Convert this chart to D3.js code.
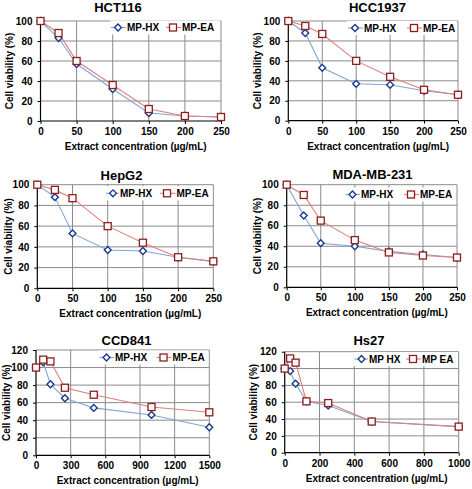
<!DOCTYPE html>
<html><head><meta charset="utf-8">
<script src="https://cdn.jsdelivr.net/npm/d3@7"></script>
<style>
html,body{margin:0;padding:0;background:#fff;}
svg{display:block;}
text{font-family:"Liberation Sans",Arial,sans-serif;font-weight:bold;fill:#000;}
</style></head><body>
<svg id="chart" width="472" height="489"></svg>
<script>
// ---- data ----
const titles = ["HCT116", "HCC1937", "HepG2", "MDA-MB-231", "CCD841", "Hs27"];
const concStd = [0, 25, 50, 100, 150, 200, 250];
const concCCD841 = [0, 62.5, 125, 250, 500, 1000, 1500];
const concHs27 = [0, 31.25, 62.5, 125, 250, 500, 1000];
const hct116HX = [100, 83, 57, 32, 8, 5, 4];
const hct116EA = [100, 88, 60, 36, 12, 5, 4];
const hcc1937HX = [100, 88, 53, 37, 36, 30, 26];
const hcc1937EA = [100, 95, 87, 60, 44, 31, 26];
const hepg2HX = [100, 88, 53, 37, 36, 30, 26];
const hepg2EA = [100, 95, 87, 60, 44, 30, 26];
const mdaHX = [100, 70, 43, 40, 35, 32, 29];
const mdaEA = [100, 90, 65, 46, 34, 31, 29];
const ccd841HX = [100, 106, 81, 65, 54, 46, 32];
const ccd841EA = [100, 109, 107, 77, 69, 55, 49];
const hs27HX = [100, 97, 82, 61, 56, 37, 31];
const hs27EA = [100, 112, 107, 61, 59, 37, 31];
const xTicks250 = [0, 50, 100, 150, 200, 250];
const xTicks1500 = [0, 300, 600, 900, 1200, 1500];
const xTicks1000 = [0, 200, 400, 600, 800, 1000];
const yTicks100 = [0, 20, 40, 60, 80, 100];
const yTicks120 = [0, 20, 40, 60, 80, 100, 120];
const legendStd = ["MP-HX", "MP-EA"];
const legendHs27 = ["MP HX", "MP EA"];
const xTitle = "Extract concentration (\u00b5g/mL)";
const yTitle = "Cell viability (%)";

// ---- layout ----
const panels = [
  {title: titles[0], x: concStd, hx: hct116HX, ea: hct116EA, xt: xTicks250, yt: yTicks100, leg: legendStd,
   L: 40.5, R: 221, T: 21, B: 121, titleX: 118, titleY: 12, yTitleX: 9, legY: 27.5, hxM: 118, hxT: 127, eaM: 173, eaT: 182},
  {title: titles[1], x: concStd, hx: hcc1937HX, ea: hcc1937EA, xt: xTicks250, yt: yTicks100, leg: legendStd,
   L: 288.3, R: 458, T: 21, B: 120.7, titleX: 377.5, titleY: 12, yTitleX: 257, legY: 28, hxM: 355, hxT: 364, eaM: 414, eaT: 423},
  {title: titles[2], x: concStd, hx: hepg2HX, ea: hepg2EA, xt: xTicks250, yt: yTicks100, leg: legendStd,
   L: 37.3, R: 213.3, T: 184.7, B: 288.3, titleX: 121.5, titleY: 180, yTitleX: 8, legY: 193.3, hxM: 113, hxT: 120, eaM: 167, eaT: 176.5},
  {title: titles[3], x: concStd, hx: mdaHX, ea: mdaEA, xt: xTicks250, yt: yTicks100, leg: legendStd,
   L: 286.7, R: 457, T: 184.7, B: 287.3, titleX: 372.5, titleY: 179, yTitleX: 257, legY: 194.5, hxM: 352.5, hxT: 361, eaM: 411, eaT: 420},
  {title: titles[4], x: concCCD841, hx: ccd841HX, ea: ccd841EA, xt: xTicks1500, yt: yTicks120, leg: legendStd,
   L: 36, R: 209.3, T: 350, B: 455.3, titleX: 126.5, titleY: 345, yTitleX: 6, legY: 357.5, hxM: 106.5, hxT: 115, eaM: 163.5, eaT: 172.5},
  {title: titles[5], x: concHs27, hx: hs27HX, ea: hs27EA, xt: xTicks1000, yt: yTicks120, leg: legendHs27,
   L: 284.7, R: 458.7, T: 351.7, B: 452.7, titleX: 369, titleY: 345, yTitleX: 253, legY: 359, hxM: 361.5, hxT: 369, eaM: 413, eaT: 422}
];

const hxLine = "#7fa6d6", hxMark = "#1c3a8a";
const eaLine = "#dd7f7f", eaMark = "#8f1d1d";
const gridCol = "#8a8a8a";

const svg = d3.select("#chart");
const diamond = d3.symbol().type(d3.symbolDiamond2).size(30);

function drawMarker(g, type, cx, cy) {
  if (type === "hx") {
    g.append("path").attr("d", diamond()).attr("transform", `translate(${cx},${cy})`)
      .attr("fill", "#fff").attr("stroke", hxMark).attr("stroke-width", 1.4);
  } else {
    g.append("rect").attr("x", cx - 3.5).attr("y", cy - 3.5).attr("width", 7).attr("height", 7)
      .attr("fill", "#fff").attr("stroke", eaMark).attr("stroke-width", 1.3);
  }
}

panels.forEach(p => {
  const xMax = p.xt[p.xt.length - 1], yMax = p.yt[p.yt.length - 1];
  const x = d3.scaleLinear().domain([0, xMax]).range([p.L, p.R]);
  const y = d3.scaleLinear().domain([0, yMax]).range([p.B, p.T]);
  const g = svg.append("g");

  // gridlines
  g.append("g").selectAll("line").data(p.yt.filter(v => v > 0)).join("line")
    .attr("x1", p.L).attr("x2", p.R).attr("y1", d => y(d)).attr("y2", d => y(d))
    .attr("stroke", gridCol).attr("stroke-width", 1);
  g.append("g").selectAll("line").data(p.xt.filter(v => v > 0)).join("line")
    .attr("x1", d => x(d)).attr("x2", d => x(d)).attr("y1", p.T).attr("y2", p.B)
    .attr("stroke", gridCol).attr("stroke-width", 1);

  // legend background
  g.append("rect").attr("x", p.hxM - 8).attr("y", p.legY - 7).attr("width", p.R - 1 - (p.hxM - 8)).attr("height", 14)
    .attr("fill", "#fff");

  // axes
  const xAxis = d3.axisBottom(x).tickValues(p.xt).tickSize(3).tickPadding(4).tickFormat(d3.format("d"));
  const yAxis = d3.axisLeft(y).tickValues(p.yt).tickSize(3).tickPadding(5).tickFormat(d3.format("d"));
  const ax = g.append("g").attr("transform", `translate(0,${p.B})`).call(xAxis);
  const ay = g.append("g").attr("transform", `translate(${p.L},0)`).call(yAxis);
  [ax, ay].forEach(a => {
    a.select(".domain").attr("stroke", "#000").attr("stroke-width", 1.2);
    a.selectAll(".tick line").attr("stroke", "#000");
    a.selectAll(".tick text").style("font-size", "10px").style("font-family", "'Liberation Sans',Arial,sans-serif").style("font-weight", "bold").attr("fill", "#000");
  });
  ax.select(".domain").attr("d", `M${p.L},0H${p.R}`);
  ay.select(".domain").attr("d", `M0,${p.B}V${p.T}`);

  // lines
  const line = d3.line().x(d => x(d[0])).y(d => y(d[1]));
  const hxPts = p.x.map((c, i) => [c, p.hx[i]]);
  const eaPts = p.x.map((c, i) => [c, p.ea[i]]);
  g.append("path").attr("d", line(hxPts)).attr("fill", "none").attr("stroke", hxLine).attr("stroke-width", 1.1);
  g.append("path").attr("d", line(eaPts)).attr("fill", "none").attr("stroke", eaLine).attr("stroke-width", 1.1);
  hxPts.forEach(d => drawMarker(g, "hx", x(d[0]), y(d[1])));
  eaPts.forEach(d => drawMarker(g, "ea", x(d[0]), y(d[1])));

  // legend
  g.append("line").attr("x1", p.hxM - 7).attr("x2", p.hxT - 1).attr("y1", p.legY).attr("y2", p.legY).attr("stroke", hxLine).attr("stroke-width", 1.1);
  drawMarker(g, "hx", p.hxM, p.legY);
  g.append("text").attr("x", p.hxT).attr("y", p.legY).attr("dy", "0.35em").style("font-size", "10px").text(p.leg[0]);
  g.append("line").attr("x1", p.eaM - 7).attr("x2", p.eaT - 1).attr("y1", p.legY).attr("y2", p.legY).attr("stroke", eaLine).attr("stroke-width", 1.1);
  drawMarker(g, "ea", p.eaM, p.legY);
  g.append("text").attr("x", p.eaT).attr("y", p.legY).attr("dy", "0.35em").style("font-size", "10px").text(p.leg[1]);

  // titles
  g.append("text").attr("x", p.titleX).attr("y", p.titleY).attr("text-anchor", "middle").style("font-size", "13px").text(p.title);
  g.append("text").attr("x", (p.L + p.R) / 2 + 5).attr("y", p.B + 29).attr("text-anchor", "middle").style("font-size", "10px").text(xTitle);
  g.append("text").attr("transform", `translate(${p.yTitleX},${(p.T + p.B) / 2}) rotate(-90)`)
    .attr("text-anchor", "middle").attr("dy", "0.35em").style("font-size", "10px").text(yTitle);
});
</script>
</body></html>
